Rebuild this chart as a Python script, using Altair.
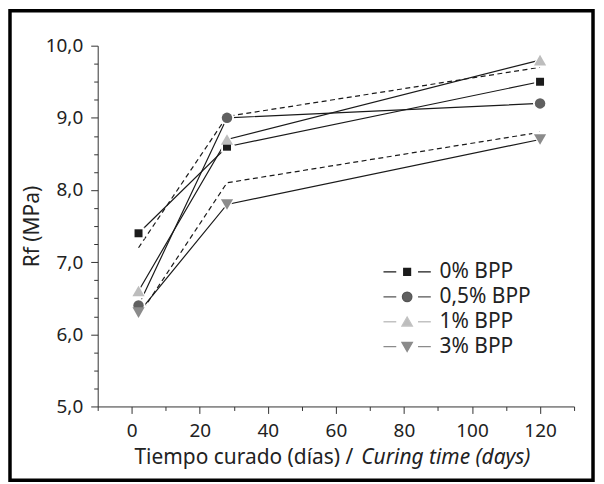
import altair as alt
import pandas as pd

# ---- data ----
series = ["0% BPP", "0,5% BPP", "1% BPP", "3% BPP"]
days = [2, 28, 120]
rf_0 = [7.4, 8.6, 9.5]
rf_05 = [6.4, 9.0, 9.2]
rf_1 = [6.6, 8.7, 9.8]
rf_3 = [6.3, 7.8, 8.7]

models = ["modelo A", "modelo B"]
model_a = [7.2, 9.02, 9.7]
model_b = [6.25, 8.1, 8.8]

x_ticks = [-10, 0, 10, 20, 30, 40, 50, 60, 70, 80, 90, 100, 110, 120, 130]
y_ticks = [5.0, 5.25, 5.5, 5.75, 6.0, 6.25, 6.5, 6.75, 7.0, 7.25, 7.5, 7.75,
           8.0, 8.25, 8.5, 8.75, 9.0, 9.25, 9.5, 9.75, 10.0]

# ---- styles ----
FONT = "Noto Sans"
TXT = "#222222"
marker_shapes = ["square", "circle", "triangle-up", "triangle-down"]
marker_colors = ["#1b1b1b", "#606060", "#bdbdbd", "#8b8b8b"]
legend_colors = ["#1b1b1b", "#555555", "#c2c2c2", "#8b8b8b"]
marker_sizes = [64, 110, 150, 150]
halo_sizes = [140, 200, 300, 300]
leg_line = "M-2.5,0H-1.15M1.15,0H2.5"
legend_paths = [
    leg_line + "M-0.36,-0.36H0.36V0.36H-0.36Z",
    leg_line + "M-0.5,0A0.5,0.5,0,1,1,0.5,0A0.5,0.5,0,1,1,-0.5,0Z",
    leg_line + "M0,-0.5L0.55,0.45L-0.55,0.45Z",
    leg_line + "M0,0.5L0.55,-0.45L-0.55,-0.45Z",
]

W, H = 478, 362

rows = []
for i, (name, vals) in enumerate(zip(series, [rf_0, rf_05, rf_1, rf_3])):
    for d, v in zip(days, vals):
        rows.append({"series": name, "order": i, "day": d, "rf": v})
df = pd.DataFrame(rows)

mrows = []
for name, vals in zip(models, [model_a, model_b]):
    for d, v in zip(days, vals):
        mrows.append({"model": name, "day": d, "rf": v})
mdf = pd.DataFrame(mrows)

xscale = alt.Scale(domain=[-10, 130], nice=False, zero=False)
yscale = alt.Scale(domain=[5, 10], nice=False, zero=False)

x_axis = alt.Axis(
    values=x_ticks, orient="bottom", grid=False,
    domainColor="#333333", domainWidth=1,
    tickColor="#333333", tickWidth=1, tickSize=7,
    tickDash={"condition": {"test": "datum.value % 20 !== 0", "value": [4, 20]},
              "value": [10, 0]},
    labelExpr="datum.value % 20 === 0 ? datum.label : ''",
    labelFont=FONT, labelFontSize=19, labelColor=TXT, labelPadding=8,
    labelOverlap=False, labelFlush=False,
    title="Tiempo curado (días) /", titleFont=FONT, titleFontSize=21,
    titleFontWeight="normal", titleColor=TXT,
    titleX=256, titleY=57, titleAlign="right", titleBaseline="alphabetic",
)
x_axis_it = alt.Axis(
    orient="bottom", grid=False, ticks=False, labels=False, domain=False,
    title="Curing time (days)", titleFont=FONT, titleFontSize=21,
    titleFontWeight="normal", titleFontStyle="italic", titleColor=TXT,
    titleX=264, titleY=57, titleAlign="left", titleBaseline="alphabetic",
)
y_axis = alt.Axis(
    values=y_ticks, grid=False,
    domainColor="#333333", domainWidth=1,
    tickColor="#333333", tickWidth=1, tickSize=7,
    tickDash={"condition": {"test": "abs(datum.value - round(datum.value)) > 0.01",
                            "value": [4, 20]},
              "value": [10, 0]},
    labelExpr="abs(datum.value - round(datum.value)) < 0.01 ? replace(format(datum.value, '.1f'), '.', ',') : ''",
    labelFont=FONT, labelFontSize=19, labelColor=TXT, labelPadding=8,
    labelOverlap=False, labelFlush=False,
    title="Rf (MPa)", titleFont=FONT, titleFontSize=21,
    titleFontWeight="normal", titleColor=TXT,
    titleX=-65, titleY=181, titleAngle=270, titleAlign="center",
    titleBaseline="middle",
)

X = lambda ax: alt.X("day:Q", scale=xscale, axis=ax)
Y = alt.Y("rf:Q", scale=yscale, axis=y_axis)

frame = alt.Chart(pd.DataFrame({"k": [0]})).mark_rect(
    fillOpacity=0, stroke="#000000", strokeWidth=3.5
).encode(
    x=alt.value(-88), x2=alt.value(497), y=alt.value(-35), y2=alt.value(436)
)

lines = alt.Chart(df).mark_line(color="#1a1a1a", strokeWidth=1.2).encode(
    x=X(x_axis), y=Y, detail="series:N", order="day:Q"
)

dashed = alt.Chart(mdf).mark_line(
    color="#1a1a1a", strokeWidth=1.2, strokeDash=[5, 3.5]
).encode(
    x=X(None), y=Y, detail="model:N", order="day:Q"
)

halos = []
marks = []
for i, s in enumerate(series):
    base = alt.Chart(df).transform_filter(alt.datum.series == s)
    halos.append(base.mark_point(
        filled=True, opacity=1, color="white", shape=marker_shapes[i], size=halo_sizes[i]
    ).encode(x=X(None), y=Y))
    marks.append(base.mark_point(
        filled=True, opacity=1, color=marker_colors[i], shape=marker_shapes[i], size=marker_sizes[i]
    ).encode(x=X(None), y=Y))

leg = alt.Legend(
    orient="none", legendX=300, legendY=216.5, title=None,
    labelFont=FONT, labelFontSize=21, labelColor=TXT, labelLimit=300,
    symbolSize=361, symbolStrokeWidth=1.3, symbolOpacity=1,
    rowPadding=3, labelOffset=22, padding=0,
)
legend_layer = alt.Chart(df).mark_point(filled=True, opacity=0, size=361).encode(
    x=X(x_axis_it), y=Y,
    fill=alt.Fill("series:N", scale=alt.Scale(domain=series, range=marker_colors), legend=leg),
    stroke=alt.Stroke("series:N", scale=alt.Scale(domain=series, range=legend_colors), legend=leg),
    shape=alt.Shape("series:N", scale=alt.Scale(domain=series, range=legend_paths), legend=leg),
)

chart = alt.layer(frame, lines, dashed, *halos, *marks, legend_layer).resolve_axis(
    x="independent"
).properties(
    width=W, height=H,
    padding={"left": 90, "top": 37, "right": 22, "bottom": 77},
    autosize=alt.AutoSizeParams(type="none"),
    background="white",
).configure_view(strokeWidth=0)

chart.save("out.html", embed_options={"renderer": "svg", "actions": False})
